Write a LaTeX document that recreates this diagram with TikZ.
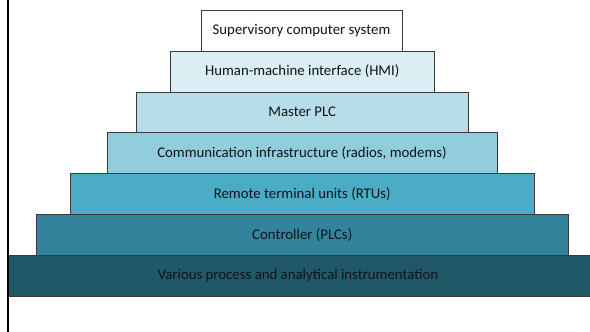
\documentclass[tikz,border=0pt]{standalone}
\usepackage{fontspec}
\setmainfont{Carlito}
\definecolor{c1}{HTML}{FFFFFF}
\definecolor{c2}{HTML}{DAEEF3}
\definecolor{c3}{HTML}{B7DDE8}
\definecolor{c4}{HTML}{92CDDC}
\definecolor{c5}{HTML}{4BACC6}
\definecolor{c6}{HTML}{31849B}
\definecolor{c7}{HTML}{215868}
\definecolor{edge}{HTML}{3A3A3A}
\definecolor{txt}{HTML}{101418}
\tikzset{
  layer/.style={draw=edge, line width=0.8pt, rectangle, inner sep=0pt, text=txt,
    font=\fontsize{14.8}{16}\selectfont},
}
\newcommand{\lay}[7]{% name, x1, y1, x2, y2, colour, text
  \node[layer, fill=#6, minimum width={(#4-#2)*1pt}, minimum height={(#5-#3)*1pt}]
    (#1) at ({(#2+#4)/2},{(#3+#5)/2}) {\raisebox{-1.2pt}{#7}};}
\begin{document}
\begin{tikzpicture}[x=1pt,y=-1pt]
\useasboundingbox (0,0) rectangle (590,332);
\begin{scope}
\clip (0,0) rectangle (590,332);
\lay{b7}{8}{255.5}{594}{296}{c7}{\hspace*{-6pt}Various process and analytical instrumentation}
\end{scope}
\lay{b6}{36.5}{214.5}{568}{255.5}{c6}{Controller (PLCs)}
\lay{b5}{70.5}{173.5}{534}{214.5}{c5}{Remote terminal units (RTUs)}
\lay{b4}{107}{132.5}{497}{173.5}{c4}{Communication infrastructure (radios, modems)}
\lay{b3}{136.5}{92}{468}{132.5}{c3}{Master PLC}
\lay{b2}{170.5}{51}{434}{92}{c2}{Human-machine interface (HMI)}
\lay{b1}{201}{10}{402}{51}{c1}{Supervisory computer system}
\coordinate (lt) at (8,0);
\coordinate (lb) at (8,332);
\draw[black, line width=2.2pt] (lt) -- (lb);
\end{tikzpicture}
\end{document}
